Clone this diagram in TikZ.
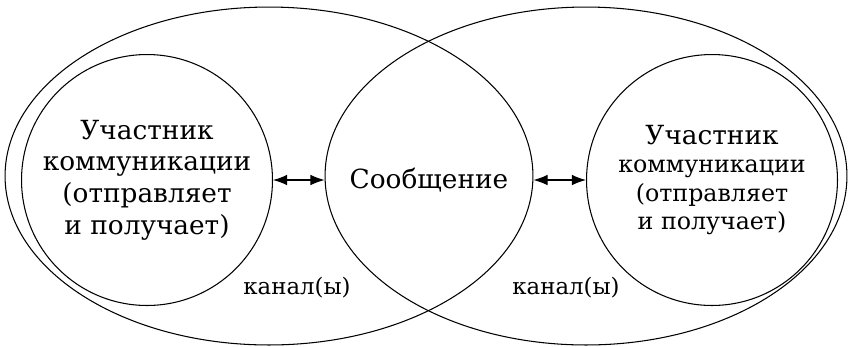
\documentclass[tikz,border=0pt]{standalone}
\usepackage{fontspec}
\setmainfont{DejaVu Serif}
\usetikzlibrary{shapes.geometric,arrows.meta}

\begin{document}
\begin{tikzpicture}[x=0.02cm,y=-0.02cm]
\tikzstyle{every node}+=[inner sep=0pt]
\tikzstyle{chan}=[draw=black, ellipse, line width=0.6pt]
\tikzstyle{party}=[draw=black, circle, line width=0.6pt, minimum size=5.02cm, align=center]
\tikzstyle{link}=[black, line width=0.6pt, {Latex[length=8pt,width=6pt]}-{Latex[length=8pt,width=6pt]}]
\useasboundingbox (0,0) rectangle (848,346);
\node [chan, minimum width=10.56cm, minimum height=6.76cm] (chanL) at (269,176) {};
\node [chan, minimum width=10.44cm, minimum height=6.76cm] (chanR) at (586,176) {};
\node [party, font=\fontsize{15}{18}\selectfont] (partL) at (147,180)
  {Участник\\коммуникации\\(отправляет\\и получает)};
\node [party, font=\fontsize{13.5}{16}\selectfont] (partR) at (712,180)
  {{\fontsize{15}{18}\selectfont Участник}\\коммуникации\\(отправляет\\и получает)};
\draw (429,180) node [font=\fontsize{15}{18}\selectfont] (msg) {Сообщение};
\draw (297,288) node [font=\fontsize{13}{16}\selectfont] (chanLabL) {канал(ы)};
\draw (566,288) node [font=\fontsize{13}{16}\selectfont] (chanLabR) {канал(ы)};
\draw [link] (partL.east) -- (chanR.west |- partL.east);
\draw [link] (chanL.east |- partR.west) -- (partR.west);
\end{tikzpicture}
\end{document}
